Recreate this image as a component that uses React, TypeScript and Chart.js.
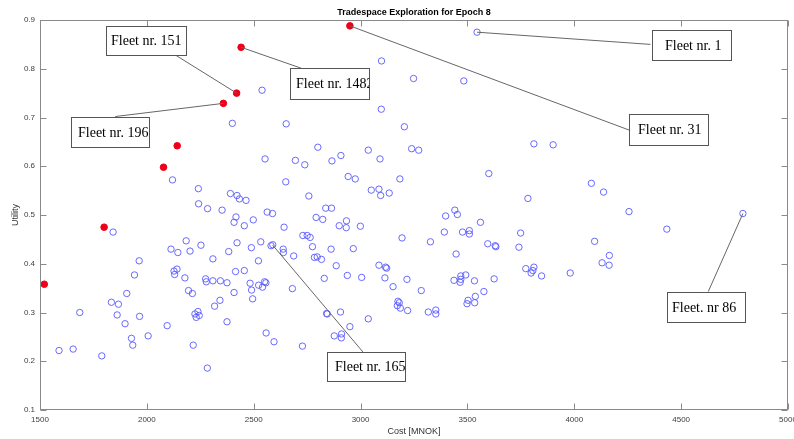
import React, { useEffect, useRef } from "react";
import { Chart, registerables } from "chart.js";

Chart.register(...registerables);

// ---- Data ----
const blueCost = [
  3545, 3248, 3483, 3098, 2539, 3097, 2400, 2652, 3205, 2800,
  2553, 2695, 2739, 2866, 2908, 3036, 3091, 3239, 3272, 3811,
  3901, 2120, 2650, 2942, 2975, 3184, 3600, 4080, 4137, 3783,
  2241, 2391, 2422, 2433, 2464, 2242, 2284, 2352, 3050, 3086,
  3094, 3134, 2758, 2837, 2864, 2563, 2588, 2417, 2408, 2456,
  2498, 2642, 2792, 2823, 2934, 2900, 2933, 2999, 3398, 3441,
  3453, 3561, 4256, 4789, 1842, 3392, 3477, 3509, 3509, 3749,
  4433, 2184, 2253, 2113, 2422, 2533, 2489, 2581, 2589, 2638,
  2639, 2730, 2750, 2764, 3194, 3327, 2775, 2862, 2966, 3595,
  3630, 3633, 3741, 4095, 2145, 2202, 2383, 2687, 1964, 2309,
  2522, 2784, 2797, 2817, 3447, 4164, 4130, 4163, 2886, 3086,
  3117, 3122, 3773, 3811, 3798, 3806, 3981, 3847, 1942, 2127,
  2141, 2130, 2415, 2456, 2178, 2275, 2278, 2309, 2344, 2375,
  2483, 2523, 2551, 2557, 2541, 2830, 2938, 3005, 3114, 3217,
  3437, 3469, 3469, 3466, 3492, 3533, 3625, 2490, 2681, 3152,
  3284, 3577, 1906, 2195, 2213, 2408, 2495, 2342, 1834, 1867,
  2317, 3537, 3503, 3498, 3534, 3175, 3181, 3172, 3186, 3220,
  3317, 3352, 3352, 2906, 2841, 2844, 1686, 1861, 1966, 2225,
  2239, 2245, 2231, 3036, 1898, 2095, 2375, 2950, 2558, 2877,
  2911, 2910, 2006, 1928, 1934, 2217, 2595, 2728, 1589, 1655,
  1789, 2283,
];
const blueUtility = [
  0.875, 0.780, 0.775, 0.816, 0.756, 0.717, 0.688, 0.687, 0.681, 0.639,
  0.615, 0.612, 0.603, 0.611, 0.622, 0.633, 0.615, 0.636, 0.633, 0.646,
  0.644, 0.572, 0.568, 0.579, 0.574, 0.574, 0.585, 0.565, 0.547, 0.534,
  0.554, 0.544, 0.540, 0.533, 0.530, 0.523, 0.513, 0.510, 0.551, 0.553,
  0.540, 0.545, 0.539, 0.514, 0.514, 0.506, 0.503, 0.496, 0.485, 0.478,
  0.490, 0.475, 0.495, 0.491, 0.488, 0.478, 0.474, 0.477, 0.498, 0.510,
  0.501, 0.485, 0.507, 0.503, 0.465, 0.465, 0.465, 0.468, 0.461, 0.463,
  0.471, 0.447, 0.438, 0.430, 0.443, 0.445, 0.433, 0.437, 0.439, 0.430,
  0.423, 0.458, 0.458, 0.454, 0.453, 0.445, 0.435, 0.430, 0.431, 0.441,
  0.437, 0.435, 0.434, 0.446, 0.423, 0.426, 0.425, 0.416, 0.406, 0.410,
  0.406, 0.413, 0.414, 0.409, 0.420, 0.417, 0.402, 0.397, 0.396, 0.397,
  0.393, 0.391, 0.390, 0.393, 0.381, 0.386, 0.381, 0.375, 0.377, 0.385,
  0.389, 0.378, 0.384, 0.386, 0.371, 0.369, 0.363, 0.365, 0.365, 0.361,
  0.360, 0.356, 0.363, 0.361, 0.352, 0.370, 0.376, 0.372, 0.371, 0.368,
  0.366, 0.375, 0.368, 0.362, 0.377, 0.365, 0.369, 0.346, 0.349, 0.353,
  0.345, 0.343, 0.339, 0.345, 0.339, 0.341, 0.328, 0.325, 0.321, 0.317,
  0.313, 0.333, 0.325, 0.318, 0.320, 0.323, 0.320, 0.314, 0.309, 0.304,
  0.301, 0.305, 0.297, 0.301, 0.298, 0.297, 0.300, 0.295, 0.292, 0.297,
  0.302, 0.294, 0.290, 0.287, 0.277, 0.273, 0.281, 0.271, 0.258, 0.252,
  0.256, 0.248, 0.252, 0.247, 0.233, 0.233, 0.240, 0.231, 0.222, 0.225,
  0.211, 0.186,
];
const redCost = [1520, 1800, 2078, 2142, 2358, 2420, 2441, 2950];
const redUtility = [0.358, 0.475, 0.598, 0.642, 0.729, 0.750, 0.844, 0.888];

const xTickStep = 500;
const yTickStep = 0.1;
const chartTitle = "Tradespace Exploration for Epoch 8";
const xLabel = "Cost [MNOK]";
const yLabel = "Utility";

// Annotations: text, head (data point), tail (data), box top-left (data)
const noteTexts = ["Fleet nr. 151", "Fleet nr. 1482", "Fleet nr. 196", "Fleet nr. 1", "Fleet nr. 31", "Fleet nr. 165", "Fleet. nr 86"];
const noteHeads = [[2420, 0.750], [2441, 0.844], [2358, 0.729], [3545, 0.875], [2950, 0.888], [2589, 0.438], [4789, 0.503]];
const noteTails = [[2134, 0.828], [2723, 0.801], [1852, 0.702], [4356, 0.850], [4258, 0.674], [3013, 0.218], [4627, 0.343]];
const noteBoxes = [[1808, 0.888], [2669, 0.801], [1645, 0.702], [4364, 0.879], [4258, 0.707], [2842, 0.218], [4436, 0.343]];
const noteSizes = [[80, 29], [79, 31], [78, 30], [79, 30], [79, 31], [78, 29], [78, 30]];
const notePads = [5, 6, 7, 13, 9, 8, 5];

const SANS = "'Liberation Sans', Arial, sans-serif";
const SERIF = "'Liberation Serif', 'Times New Roman', serif";
const AXIS_COLOR = "#8a8a8a";

const decorPlugin = {
  id: "decor",
  afterDatasetsDraw(chart: any) {
    const { ctx, chartArea, scales } = chart;
    const xs = scales.x;
    const ys = scales.y;
    ctx.save();
    // box
    ctx.strokeStyle = AXIS_COLOR;
    ctx.lineWidth = 1;
    const l = Math.round(chartArea.left) + 0.5;
    const r = Math.round(chartArea.right) - 0.5;
    const t = Math.round(chartArea.top) + 0.5;
    const b = Math.round(chartArea.bottom) - 0.5;
    ctx.strokeRect(l, t, r - l, b - t);
    // inward ticks
    const tl = 6;
    ctx.beginPath();
    xs.ticks.forEach((tk: any) => {
      const px = Math.round(xs.getPixelForValue(tk.value)) + 0.5;
      ctx.moveTo(px, b);
      ctx.lineTo(px, b - tl);
      ctx.moveTo(px, t);
      ctx.lineTo(px, t + tl);
    });
    ys.ticks.forEach((tk: any) => {
      const py = Math.round(ys.getPixelForValue(tk.value)) + 0.5;
      ctx.moveTo(l, py);
      ctx.lineTo(l + tl, py);
      ctx.moveTo(r, py);
      ctx.lineTo(r - tl, py);
    });
    ctx.stroke();

    // annotations
    noteTexts.forEach((txt, i) => {
      const hx = xs.getPixelForValue(noteHeads[i][0]);
      const hy = ys.getPixelForValue(noteHeads[i][1]);
      const tx = xs.getPixelForValue(noteTails[i][0]);
      const ty = ys.getPixelForValue(noteTails[i][1]);
      ctx.strokeStyle = "#666";
      ctx.lineWidth = 1;
      ctx.beginPath();
      ctx.moveTo(hx, hy);
      ctx.lineTo(tx, ty);
      ctx.stroke();
    });
    noteTexts.forEach((txt, i) => {
      const bx = Math.round(xs.getPixelForValue(noteBoxes[i][0]));
      const by = Math.round(ys.getPixelForValue(noteBoxes[i][1]));
      const [w, h] = noteSizes[i];
      ctx.fillStyle = "#fff";
      ctx.fillRect(bx, by, w, h);
      ctx.strokeStyle = "#555";
      ctx.lineWidth = 1;
      ctx.strokeRect(bx + 0.5, by + 0.5, w, h);
      ctx.save();
      ctx.beginPath();
      ctx.rect(bx + 1, by + 1, w - 1, h - 1);
      ctx.clip();
      ctx.fillStyle = "#000";
      ctx.font = `14px ${SERIF}`;
      ctx.textBaseline = "middle";
      ctx.textAlign = "left";
      ctx.fillText(txt, bx + notePads[i], by + h / 2 + 1);
      ctx.restore();
    });

    // title
    ctx.fillStyle = "#000";
    ctx.font = `bold 9px ${SANS}`;
    ctx.textAlign = "center";
    ctx.textBaseline = "middle";
    ctx.fillText(chartTitle, (chartArea.left + chartArea.right) / 2, 13);
    ctx.restore();
  },
};

export default function App() {
  const canvasRef = useRef<HTMLCanvasElement | null>(null);

  useEffect(() => {
    document.body.style.margin = "0";
    const canvas = canvasRef.current;
    if (!canvas) return;
    const blue = blueCost.map((c, i) => ({ x: c, y: blueUtility[i] }));
    const red = redCost.map((c, i) => ({ x: c, y: redUtility[i] }));
    const chart = new Chart(canvas, {
      type: "scatter",
      data: {
        datasets: [
          {
            data: blue,
            pointRadius: 3.2,
            pointBorderWidth: 1,
            borderColor: "rgba(90,90,255,0.9)",
            backgroundColor: "rgba(0,0,0,0)",
            pointBackgroundColor: "rgba(0,0,0,0)",
            pointBorderColor: "rgba(90,90,255,0.9)",
          },
          {
            data: red,
            pointRadius: 3.3,
            pointBorderWidth: 1,
            borderColor: "#ee0018",
            backgroundColor: "#ee0018",
            pointBackgroundColor: "#ee0018",
            pointBorderColor: "#ee0018",
          },
        ],
      },
      options: {
        responsive: false,
        animation: false,
        events: [],
        layout: { padding: { top: 20, right: 6, left: 0, bottom: 0 } },
        plugins: {
          legend: { display: false },
          title: { display: false },
          tooltip: { enabled: false },
        },
        scales: {
          x: {
            type: "linear",
            min: 1500,
            max: 5000,
            grid: { display: false, drawTicks: false },
            border: { display: false },
            ticks: {
              stepSize: xTickStep,
              autoSkip: false,
              maxRotation: 0,
              padding: 5,
              color: "#404040",
              font: { family: SANS, size: 8 },
              callback: (v: any) => String(Math.round(Number(v))),
            },
            title: {
              display: true,
              text: xLabel,
              color: "#333",
              font: { family: SANS, size: 9 },
              padding: { top: 0, bottom: 2 },
            },
            afterFit(s: any) {
              s.height = 29;
              s.paddingLeft = 0;
              s.paddingRight = 0;
            },
          },
          y: {
            type: "linear",
            min: 0.1,
            max: 0.9,
            grid: { display: false, drawTicks: false },
            border: { display: false },
            ticks: {
              stepSize: yTickStep,
              padding: 5,
              color: "#404040",
              font: { family: SANS, size: 8 },
              callback: (v: any) => Number(v).toFixed(1),
            },
            title: {
              display: true,
              text: yLabel,
              color: "#333",
              font: { family: SANS, size: 9 },
              padding: { top: 10, bottom: 0 },
            },
            afterFit(s: any) {
              s.width = 40;
              s.paddingTop = 0;
              s.paddingBottom = 0;
            },
          },
        },
      },
      plugins: [decorPlugin],
    });
    return () => chart.destroy();
  }, []);

  return (
    <div style={{ position: "absolute", left: 0, top: 0, width: 794, height: 439, background: "#fff" }}>
      <canvas ref={canvasRef} width={794} height={439} style={{ width: 794, height: 439, display: "block" }} />
    </div>
  );
}
